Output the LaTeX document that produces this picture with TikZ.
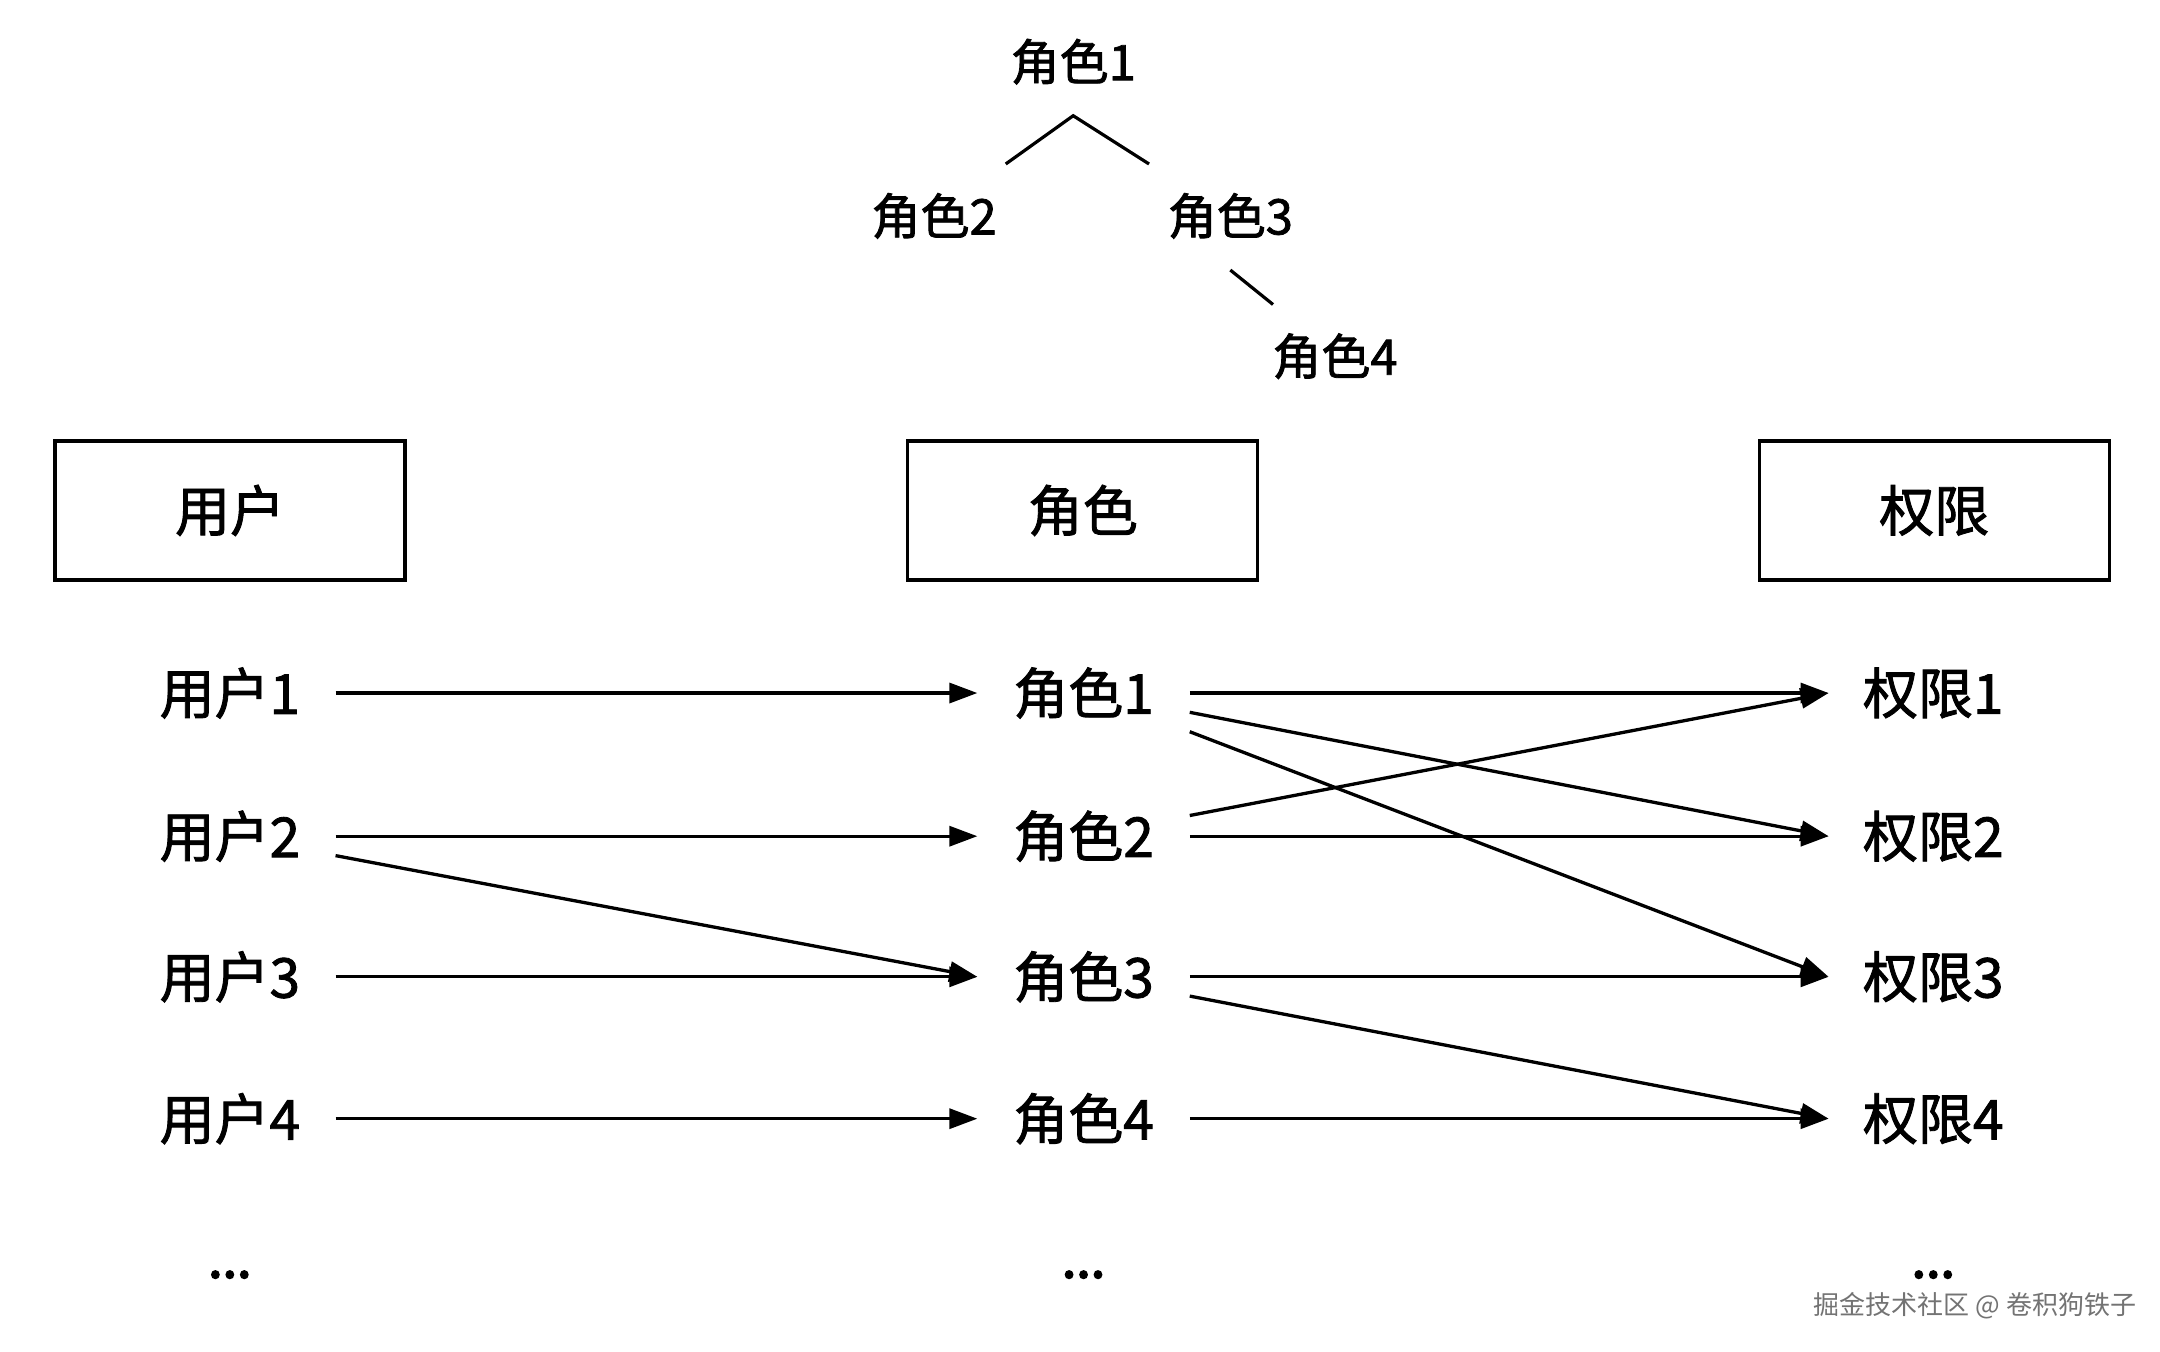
\documentclass[tikz,border=0pt]{standalone}
\usepackage{fontspec}
\newfontfamily\cjk{Noto Sans CJK SC}[FakeBold=1.6]
\newfontfamily\cjkd{Noto Sans CJK SC}[FakeBold=3.5]
\newfontfamily\cjkw{Noto Sans CJK SC}
\usetikzlibrary{arrows.meta}
\begin{document}
\begin{tikzpicture}[x=0.995pt,y=-0.995pt,
  lbl/.style={font=\cjk\fontsize{55}{60}\selectfont, inner sep=0pt, minimum width=211pt, align=center},
  treelbl/.style={font=\cjk\fontsize{49}{54}\selectfont, inner sep=0pt},
  hdr/.style={draw, line width=3.2pt, minimum width=350pt, minimum height=139pt, inner sep=0pt, font=\cjk\fontsize{55}{60}\selectfont},
  dots/.style={font=\cjkd\fontsize{52}{60}\selectfont, inner sep=0pt, anchor=base},
  arr/.style={-{Triangle[length=28pt,width=20pt]}, line width=3.3pt},
  ln/.style={line width=3.2pt}]
\fill[white] (0,0) rectangle (2170.85,1357.8);
\useasboundingbox (0,0) rectangle (2170.85,1357.8);

% tree
\node[treelbl] (t1) at (1078.6,62) {角色1};
\node[treelbl] (t2) at (938.8,217) {角色2};
\node[treelbl] (t3) at (1236.5,217) {角色3};
\node[treelbl] (t4) at (1341.7,358) {角色4};
\coordinate (ta) at (1010.8,164.8);
\coordinate (tb) at (1078.6,116.3);
\coordinate (tc) at (1154.8,164.8);
\coordinate (td) at (1236.5,271.4);
\coordinate (te) at (1279.4,306);
\draw[ln] (ta) -- (tb) -- (tc);
\draw[ln] (td) -- (te);

% headers
\node[hdr] (hu) at (231.2,513) {用户};
\node[hdr] (hr) at (1088.3,513) {角色};
\node[hdr] (hp) at (1944,513) {权限};

% rows
\node[lbl] (u1) at (231,696.5) {用户1};
\node[lbl] (u2) at (231,840.4) {用户2};
\node[lbl] (u3) at (231,981.7) {用户3};
\node[lbl] (u4) at (231,1124.3) {用户4};
\node[lbl, minimum width=212pt] (r1) at (1089,696.5) {角色1};
\node[lbl, minimum width=212pt] (r2) at (1089,840.4) {角色2};
\node[lbl, minimum width=212pt] (r3) at (1089,981.7) {角色3};
\node[lbl, minimum width=212pt] (r4) at (1089,1124.3) {角色4};
\node[lbl, minimum width=209pt] (p1) at (1943,696.5) {权限1};
\node[lbl, minimum width=209pt] (p2) at (1943,840.4) {权限2};
\node[lbl, minimum width=209pt] (p3) at (1943,981.7) {权限3};
\node[lbl, minimum width=209pt] (p4) at (1943,1124.3) {权限4};

\node[dots] (d1) at (231,1284) {...};
\node[dots] (d2) at (1089,1284) {...};
\node[dots] (d3) at (1943,1284) {...};

% arrows user -> role
\draw[arr] (u1.east) -- (r1.west);
\draw[arr] (u2.east) -- (r2.west);
\draw[arr] ([yshift=-19.4pt]u2.east) -- (r3.west);
\draw[arr] (u3.east) -- (r3.west);
\draw[arr] (u4.east) -- (r4.west);

% arrows role -> permission
\draw[arr] (r1.east) -- (p1.west);
\draw[arr] ([yshift=-19.3pt]r1.east) -- (p2.west);
\draw[arr] ([yshift=-38.7pt]r1.east) -- (p3.west);
\draw[arr] ([yshift=20.7pt]r2.east) -- (p1.west);
\draw[arr] (r2.east) -- (p2.west);
\draw[arr] (r3.east) -- (p3.west);
\draw[arr] ([yshift=-19.3pt]r3.east) -- (p4.west);
\draw[arr] (r4.east) -- (p4.west);

% watermark
\node[font=\cjkw\fontsize{26}{30}\selectfont, text=black!55, inner sep=0pt] (wm) at (1985,1312) {掘金技术社区 @ 卷积狗铁子};
\end{tikzpicture}
\end{document}
